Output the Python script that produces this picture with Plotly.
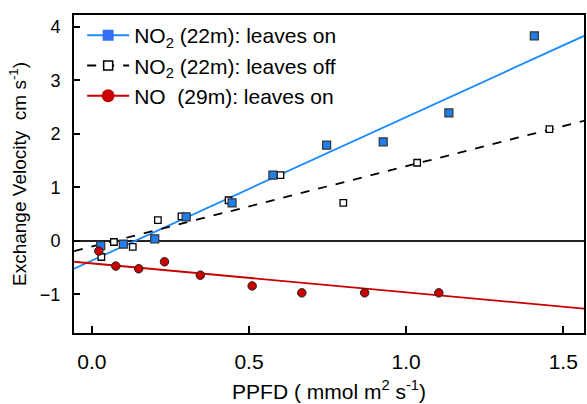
import plotly.graph_objects as go

# NO2 exchange velocity at 22 m, leaves on
ppfd_no2_on = [0.028, 0.10, 0.20, 0.30, 0.446, 0.576, 0.747, 0.927, 1.136, 1.408]
vel_no2_on = [-0.09, -0.06, 0.04, 0.45, 0.71, 1.23, 1.79, 1.85, 2.39, 3.83]

# NO2 exchange velocity at 22 m, leaves off
ppfd_no2_off = [0.03, 0.07, 0.13, 0.21, 0.285, 0.435, 0.60, 0.80, 1.035, 1.456]
vel_no2_off = [-0.30, -0.02, -0.11, 0.39, 0.46, 0.76, 1.23, 0.71, 1.46, 2.09]

# NO exchange velocity at 29 m, leaves on
ppfd_no_on = [0.022, 0.076, 0.149, 0.231, 0.345, 0.51, 0.668, 0.868, 1.104]
vel_no_on = [-0.19, -0.47, -0.52, -0.39, -0.64, -0.84, -0.97, -0.97, -0.97]

# linear fits (intercept, slope)
fit_no2_on = (-0.367, 2.68)
fit_no2_off = (-0.105, 1.50)
fit_no_on = (-0.42, -0.54)

x_range = [-0.057, 1.566]
y_range = [-1.72, 4.22]

blue_line = "#1a8cff"
blue_fill = "#1f7fef"
red = "#c80000"
font = "Liberation Sans, Arial, sans-serif"

fig = go.Figure()


def fit_line(fit, color, dash):
    a, b = fit
    xs = x_range
    ys = [a + b * x for x in xs]
    fig.add_trace(go.Scatter(x=xs, y=ys, mode="lines", showlegend=False,
                             line=dict(color=color, width=1.8, dash=dash),
                             hoverinfo="skip"))


fit_line(fit_no2_on, blue_line, "solid")
fit_line(fit_no2_off, "black", "dash")
fit_line(fit_no_on, red, "solid")

fig.add_trace(go.Scatter(x=ppfd_no2_off, y=vel_no2_off, mode="markers", showlegend=False,
                         marker=dict(symbol="square", size=6.5, color="white",
                                     line=dict(color="black", width=1.3))))
fig.add_trace(go.Scatter(x=ppfd_no2_on, y=vel_no2_on, mode="markers", showlegend=False,
                         marker=dict(symbol="square", size=8, color=blue_fill,
                                     line=dict(color="#333333", width=1.2))))
fig.add_trace(go.Scatter(x=ppfd_no_on, y=vel_no_on, mode="markers", showlegend=False,
                         marker=dict(symbol="circle", size=8.5, color=red,
                                     line=dict(color="#222222", width=1))))

# legend entries
fig.add_trace(go.Scatter(x=[None], y=[None], mode="lines+markers",
                         name="NO<sub>2</sub> (22m): leaves on",
                         line=dict(color=blue_line, width=2),
                         marker=dict(symbol="square", size=11, color="#3370f5",
                                     line=dict(width=0))))
fig.add_trace(go.Scatter(x=[None], y=[None], mode="lines+markers",
                         name="NO<sub>2</sub> (22m): leaves off",
                         line=dict(color="black", width=2, dash="dash"),
                         marker=dict(symbol="square", size=9, color="white",
                                     line=dict(color="black", width=1.5))))
fig.add_trace(go.Scatter(x=[None], y=[None], mode="lines+markers",
                         name="NO\u00a0 (29m): leaves on",
                         line=dict(color=red, width=2),
                         marker=dict(symbol="circle", size=13, color=red,
                                     line=dict(width=0))))

fig.update_layout(
    width=587, height=404,
    margin=dict(l=74, r=1, t=15, b=71),
    paper_bgcolor="white", plot_bgcolor="white",
    font=dict(family=font, color="black"),
    showlegend=True,
    legend=dict(x=0.016, y=1.0, xanchor="left", yanchor="top",
                bgcolor="rgba(0,0,0,0)", font=dict(size=21, family=font),
                tracegroupgap=0, itemwidth=42),
    xaxis=dict(range=x_range, tickvals=[0, 0.5, 1.0, 1.5],
               ticktext=["0.0", "0.5", "1.0", "1.5"],
               ticks="inside", ticklen=7, tickwidth=1.5, tickcolor="black",
               ticklabelstandoff=9,
               showline=True, linecolor="black", linewidth=2, mirror=True,
               showgrid=False, zeroline=False,
               tickfont=dict(size=21, family=font),
               title=dict(text="PPFD ( mmol m<sup>2</sup> s<sup>-1</sup>)",
                          font=dict(size=21, family=font), standoff=12)),
    yaxis=dict(range=y_range, tickvals=[-1, 0, 1, 2, 3, 4],
               ticks="inside", ticklen=6, tickwidth=1.5, tickcolor="black",
               ticklabelstandoff=8,
               showline=True, linecolor="black", linewidth=2, mirror=True,
               showgrid=False, zeroline=True, zerolinecolor="#222222", zerolinewidth=1.5,
               tickfont=dict(size=18, family=font),
               title=dict(text="Exchange Velocity  cm s<sup>-1</sup>)",
                          font=dict(size=19, family=font), standoff=8)),
)

fig.write_html("out.html")
